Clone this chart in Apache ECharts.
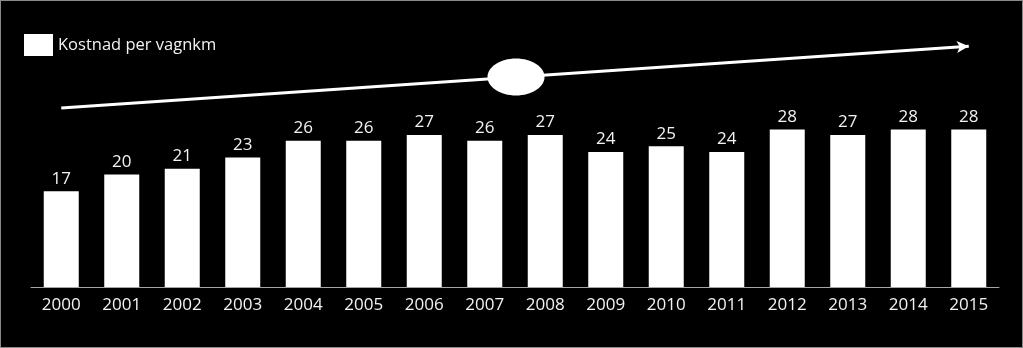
<!DOCTYPE html>
<html>
<head>
<meta charset="utf-8">
<script src="https://cdn.jsdelivr.net/npm/echarts@6/dist/echarts.min.js"></script>
<style>
html,body{margin:0;padding:0;background:#000;}
#c{width:1023px;height:348px;box-sizing:border-box;border:1px solid #8a8a8a;background:#000;}
</style>
</head>
<body>
<div id="c"></div>
<script>
const years = ['2000','2001','2002','2003','2004','2005','2006','2007','2008','2009','2010','2011','2012','2013','2014','2015'];
const cost = [17,20,21,23,26,26,27,26,27,24,25,24,28,27,28,28];
const seriesName = 'Kostnad per vagnkm';
const trendStart = ['2000', 31.8];
const trendEnd = ['2015', 42.8];

const chart = echarts.init(document.getElementById('c'));
const font = "'Open Sans', 'Noto Sans', sans-serif";
chart.setOption({
  backgroundColor: '#000',
  animation: false,
  legend: {
    data: [{name: seriesName, icon: 'rect'}],
    left: 23, top: 33, padding: 0,
    itemWidth: 29, itemHeight: 22, itemGap: 6,
    textStyle: {color: '#f2f2f2', fontSize: 16.5, fontFamily: font}
  },
  grid: {left: 30, right: 23, top: 32.75, bottom: 348 - 287 - 1},
  xAxis: {
    type: 'category', data: years,
    axisLine: {lineStyle: {color: '#a6a6a6', width: 1}},
    axisTick: {show: false},
    axisLabel: {color: '#f2f2f2', fontSize: 17, fontFamily: font, margin: 10}
  },
  yAxis: {type: 'value', min: 0, max: 45, show: false, splitLine: {show: false}},
  series: [{
    name: seriesName, type: 'bar', data: cost, barWidth: 35,
    itemStyle: {color: '#ffffff'},
    label: {show: true, position: 'top', color: '#f2f2f2', fontSize: 17, fontFamily: font, distance: 4},
    markLine: {
      silent: true, symbol: ['none', 'arrow'], symbolSize: [9, 12],
      label: {show: false},
      lineStyle: {color: '#ffffff', width: 3, type: 'solid'},
      data: [[{coord: trendStart}, {coord: trendEnd}]]
    }
  }],
  graphic: [{
    type: 'ellipse', shape: {cx: 515, cy: 76, rx: 28.5, ry: 18.5},
    style: {fill: '#ffffff'}, z: 100
  }]
});
</script>
</body>
</html>
